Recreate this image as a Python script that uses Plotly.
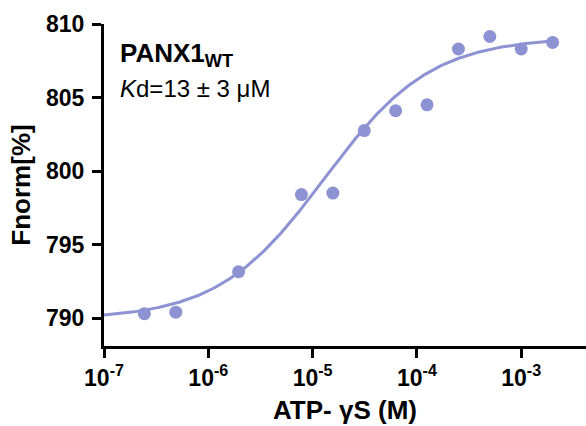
import numpy as np
import plotly.graph_objects as go

# ATP-γS titration (M) and normalised fluorescence
conc = [2.44e-7, 4.88e-7, 1.95e-6, 7.81e-6, 1.5625e-5, 3.125e-5,
        6.25e-5, 1.25e-4, 2.5e-4, 5e-4, 1e-3, 2e-3]
fnorm = [790.3, 790.4, 793.15, 798.4, 798.5, 802.75,
         804.1, 804.5, 808.3, 809.15, 808.3, 808.75]

# Binding-model parameters (Hill form)
kd = 13e-6
hill = 0.85
f_unbound = 789.9
f_bound = 809.1

x_tickvals = [1e-7, 1e-6, 1e-5, 1e-4, 1e-3]
x_ticktext = ["<b>10<sup>-7</sup></b>", "<b>10<sup>-6</sup></b>",
              "<b>10<sup>-5</sup></b>", "<b>10<sup>-4</sup></b>",
              "<b>10<sup>-3</sup></b>"]
y_tickvals = [790, 795, 800, 805, 810]
y_ticktext = ["<b>790</b>", "<b>795</b>", "<b>800</b>", "<b>805</b>", "<b>810</b>"]

color = "#8C92D2"
font = "Liberation Sans, Arial, sans-serif"

c_fit = np.logspace(-7, np.log10(2e-3), 300)
occ = c_fit**hill / (c_fit**hill + kd**hill)
f_fit = f_unbound + (f_bound - f_unbound) * occ

fig = go.Figure()
fig.add_trace(go.Scatter(x=c_fit, y=f_fit, mode="lines",
                         line=dict(color=color, width=3), hoverinfo="skip"))
fig.add_trace(go.Scatter(x=conc, y=fnorm, mode="markers",
                         marker=dict(color=color, size=13)))

fig.update_layout(
    width=586, height=426,
    margin=dict(l=104, r=0, t=24, b=80),
    plot_bgcolor="white", paper_bgcolor="white",
    showlegend=False,
    font=dict(family=font, color="black"),
    annotations=[
        dict(x=0.03, y=0.905, xref="paper", yref="paper", xanchor="left",
             yanchor="middle", showarrow=False,
             text="<b>PANX1<sub>WT</sub></b>",
             font=dict(size=26, family=font, color="black")),
        dict(x=0.03, y=0.8, xref="paper", yref="paper", xanchor="left",
             yanchor="middle", showarrow=False,
             text="<i>K</i>d=13 ± 3 μM",
             font=dict(size=24, family=font, color="black")),
    ],
)

fig.update_xaxes(
    type="log", range=[-7, -2.379],
    tickvals=x_tickvals, ticktext=x_ticktext,
    showline=True, linecolor="black", linewidth=3,
    ticks="outside", ticklen=9, tickwidth=3, tickcolor="black",
    showgrid=False, zeroline=False,
    tickfont=dict(size=23, family=font, color="black"),
    title=dict(text="<b>ATP- γS (M)</b>", standoff=12,
               font=dict(size=26, family=font, color="black")),
)
fig.update_yaxes(
    range=[788.1, 810],
    tickvals=y_tickvals, ticktext=y_ticktext,
    showline=True, linecolor="black", linewidth=3,
    ticks="outside", ticklen=9, tickwidth=3, tickcolor="black",
    ticklabelstandoff=3,
    showgrid=False, zeroline=False,
    tickfont=dict(size=23, family=font, color="black"),
    title=dict(text="<b>Fnorm[%]</b>", standoff=8,
               font=dict(size=26, family=font, color="black")),
)

fig.write_html("out.html")
